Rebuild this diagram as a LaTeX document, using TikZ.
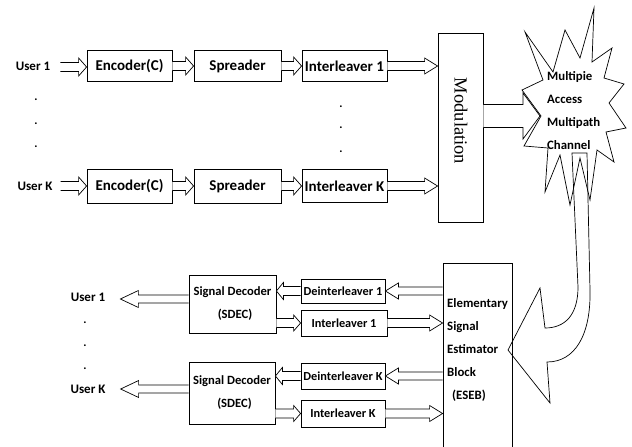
\documentclass[tikz,border=0pt]{standalone}
\usepackage{fontspec}
\setmainfont{Carlito}
\newfontfamily\serifmod{Liberation Serif}
\usetikzlibrary{calc}
\tikzset{
  blk/.style={draw, line width=0.8pt, inner sep=0pt, font=\bfseries\fontsize{15}{17}\selectfont},
  blks/.style={draw, line width=0.8pt, inner sep=0pt, font=\bfseries\fontsize{12.3}{14}\selectfont},
  lbl/.style={inner sep=0pt, font=\bfseries\fontsize{13}{15}\selectfont},
  dotlbl/.style={inner sep=0pt, font=\bfseries\fontsize{12}{14}\selectfont},
  barr/.style={draw, line width=0.7pt, fill=white, line join=miter},
}
\newcommand{\barrow}[5]{%
  \draw[barr] let \p1=#1, \p2=#2, \n1={ifthenelse(\x2>\x1,1,-1)} in
    (\x1,\y1+#3) -- (\x2-\n1*#5,\y1+#3) -- (\x2-\n1*#5,\y1+#4) -- (\x2,\y1)
    -- (\x2-\n1*#5,\y1-#4) -- (\x2-\n1*#5,\y1-#3) -- (\x1,\y1-#3);}
\begin{document}
\begin{tikzpicture}[x=1pt,y=-1pt]
\clip (0,0) rectangle (632,447);
\fill[white] (0,0) rectangle (632,447);

% ---------- transmitter ----------
\node[lbl] (u1) at (33,66) {User 1};
\node[lbl] (uK) at (35,186) {User K};
\foreach \yy in {100,124,147} \node[dotlbl] at (36,\yy) {.};

\node[blk, minimum width=85pt, minimum height=31pt] (enc1) at (129.5,66) {Encoder(C)};
\node[blk, minimum width=87pt, minimum height=31pt] (spr1) at (237.5,66) {Spreader};
\node[blk, minimum width=85pt, minimum height=31pt] (int1) at (344.5,66) {Interleaver 1};

\node[blk, minimum width=85pt, minimum height=34pt] (encK) at (129.5,186) {Encoder(C)};
\node[blk, minimum width=87pt, minimum height=34pt] (sprK) at (237.5,186) {Spreader};
\node[blk, minimum width=85pt, minimum height=33pt] (intK) at (344.5,186) {Interleaver K};
\foreach \yy in {107,128,152} \node[dotlbl] at (341,\yy) {.};

\node[draw, line width=0.8pt, minimum width=45pt, minimum height=189pt, inner sep=0pt] (mod) at (460.5,127.5) {};
\node[rotate=-90, font=\serifmod\fontsize{18.5}{20}\selectfont, inner sep=0pt] (modt) at (461,121) {Modulation};

\barrow{($(u1.east)+(10,1)$)}{(enc1.west)}{4.5pt}{9pt}{8pt}
\barrow{(enc1.east)}{(spr1.west)}{4.5pt}{9pt}{8pt}
\barrow{(spr1.east)}{(int1.west)}{4.5pt}{9pt}{8pt}
\barrow{(int1.east)}{(mod.west |- int1)}{4.5pt}{8pt}{13pt}
\barrow{($(uK.east)+(8,0)$)}{(encK.west)}{4.5pt}{9pt}{8pt}
\barrow{(encK.east)}{(sprK.west)}{4.5pt}{9pt}{8pt}
\barrow{(sprK.east)}{(intK.west)}{4.5pt}{9pt}{8pt}
\barrow{(intK.east)}{(mod.west |- intK)}{4.5pt}{8pt}{13pt}

% ---------- channel ----------
\draw[line width=0.7pt, line join=miter]
  (525,32) -- (553,72) -- (565,30) -- (580,58) -- (594,8) -- (592,62)
  -- (612,48) -- (604,78) -- (624,84) -- (609,103) -- (626,128) -- (606,132)
  -- (614,162) -- (597,150) -- (590,200) -- (580,158) -- (570,205) -- (560,155)
  -- (545,192) -- (548,148) -- (524,146) -- (541,116) -- (522,90) -- (543,80) -- cycle;
\coordinate (chin) at (540,116);
\node[lbl, align=left, anchor=west, font=\bfseries\fontsize{12.8}{23}\selectfont] (ch) at (547,110.5)
  {Multipie\\Access\\Multipath\\Channel};
\barrow{(mod.east |- chin)}{(chin)}{11.5pt}{23pt}{17pt}

% curved arrow from channel to ESEB
\draw[line width=0.7pt, line join=miter]
  (572,153) -- (578,287) .. controls (578,315) and (565,328) .. (545,328)
  -- (540,288) -- (508,350) -- (550,403) -- (547,362)
  .. controls (575,362) and (591,335) .. (590,290) -- (587,153) -- cycle;

% ---------- receiver ----------
\node[draw, line width=0.8pt, minimum width=69pt, minimum height=200pt, inner sep=0pt] (eseb) at (477.5,363) {};
\node[lbl, align=left, anchor=west, font=\bfseries\fontsize{12.8}{23}\selectfont] (esebt) at (447,349.5)
  {Elementary\\Signal\\Estimator\\Block\\\hspace{5pt}(ESEB)};

\node[blks, minimum width=84pt, minimum height=24pt] (dei1) at (343,291) {Deinterleaver 1};
\node[blks, minimum width=86pt, minimum height=26pt] (ib1) at (344,323) {Interleaver 1};
\node[blks, minimum width=84pt, minimum height=26pt] (deiK) at (343,376) {Deinterleaver K};
\node[blks, minimum width=84pt, minimum height=27pt] (ibK) at (343,413.5) {Interleaver K};

\node[draw, line width=0.8pt, minimum width=87pt, minimum height=58pt, inner sep=0pt, align=center,
  font=\bfseries\fontsize{12.6}{23}\selectfont] (sd1) at (232.5,304) {Signal Decoder\\\hspace{5pt}(SDEC)};
\node[draw, line width=0.8pt, minimum width=86pt, minimum height=62pt, inner sep=0pt, align=center,
  font=\bfseries\fontsize{12.6}{23}\selectfont] (sdK) at (232,393) {Signal Decoder\\\hspace{5pt}(SDEC)};

\node[lbl] (ub1) at (88,297) {User 1};
\node[lbl] (ubK) at (88,389) {User K};
\foreach \yy in {323,346,369} \node[dotlbl] at (85,\yy) {.};

\barrow{(eseb.west |- dei1)}{(dei1.east)}{4pt}{8pt}{13pt}
\barrow{(dei1.west)}{(sd1.east |- dei1)}{4.5pt}{8.5pt}{7pt}
\barrow{(sd1.east |- ib1)}{(ib1.west)}{4.5pt}{8pt}{7pt}
\barrow{(ib1.east)}{(eseb.west |- ib1)}{4.5pt}{8pt}{13pt}
\barrow{(eseb.west |- deiK)}{(deiK.east)}{4pt}{8pt}{13pt}
\barrow{(deiK.west)}{(sdK.east |- deiK)}{4.5pt}{8.5pt}{7pt}
\barrow{(sdK.east |- ibK)}{(ibK.west)}{4.5pt}{8pt}{7pt}
\barrow{(ibK.east)}{(eseb.west |- ibK)}{4.5pt}{8pt}{13pt}
\barrow{($(sd1.west)+(0,-5)$)}{($(ub1.east)+(15,0)$)}{4pt}{8.5pt}{18pt}
\barrow{(sdK.west |- ubK)}{($(ubK.east)+(15,0)$)}{4pt}{8.5pt}{18pt}
\end{tikzpicture}
\end{document}
